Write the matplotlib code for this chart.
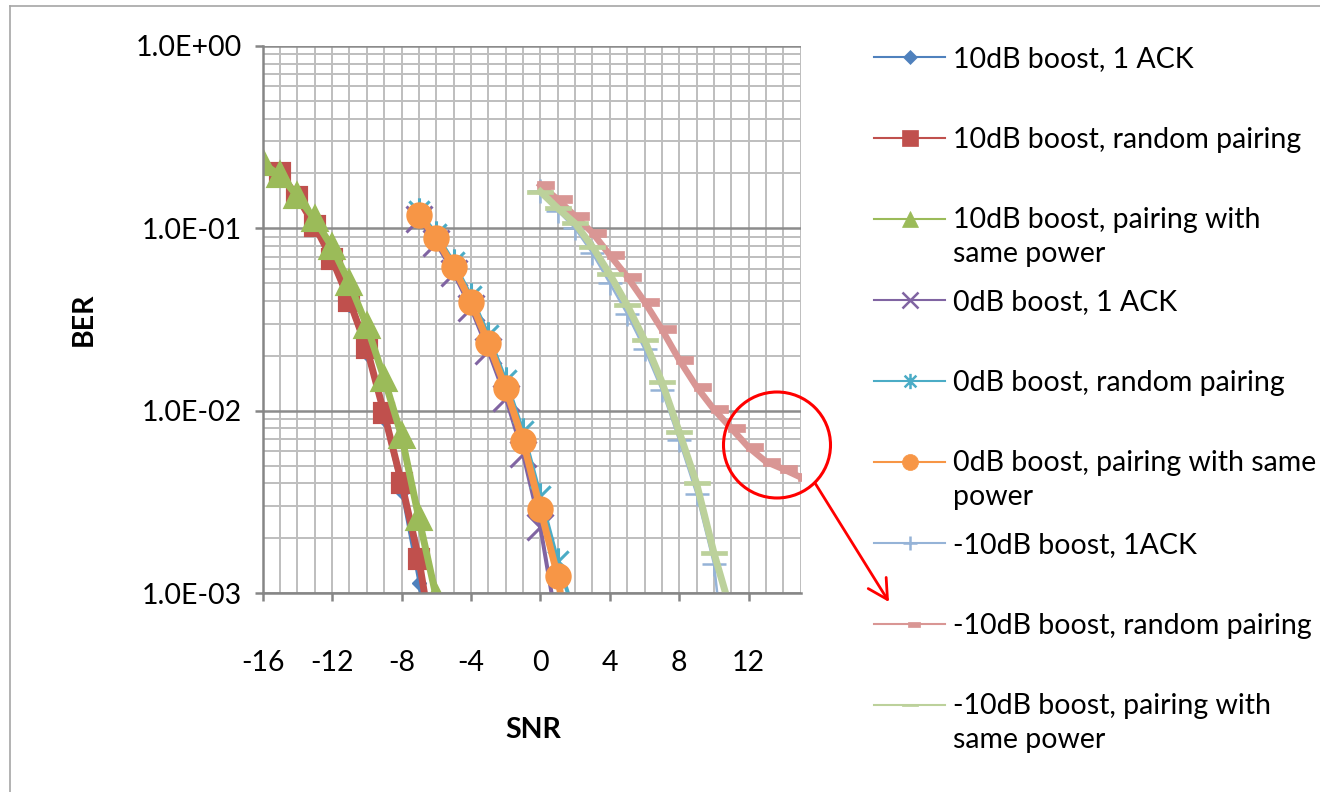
import numpy as np
import matplotlib.pyplot as plt
from matplotlib.path import Path
from matplotlib.lines import Line2D
from matplotlib.patches import Ellipse, FancyArrowPatch
from matplotlib.ticker import FixedLocator, FuncFormatter, NullFormatter

plt.rcParams['font.family'] = ['Lato', 'DejaVu Sans']
plt.rcParams['axes.unicode_minus'] = False

# ---- data ----
snr_10db = [-16, -15, -14, -13, -12, -11, -10, -9, -8, -7, -6]
ber_10db_1ack = [0.22, 0.19, 0.145, 0.100, 0.065, 0.038, 0.0205, 0.0090, 0.0036, 0.00113, 0.0002]
snr_10db_rp = [-15, -14, -13, -12, -11, -10, -9, -8, -7, -6]
ber_10db_rp = [0.200, 0.149, 0.103, 0.0676, 0.0401, 0.0220, 0.00966, 0.00402, 0.00153, 0.0004]
ber_10db_same = [0.227, 0.195, 0.150, 0.112, 0.0787, 0.0499, 0.0292, 0.0150, 0.00728, 0.00257, 0.00095]

snr_0db = [-7, -6, -5, -4, -3, -2, -1, 0, 1]
snr_0db_long = [-7, -6, -5, -4, -3, -2, -1, 0, 1, 2]
ber_0db_1ack = [0.113, 0.083, 0.057, 0.0365, 0.0213, 0.0118, 0.0058, 0.0023, 0.00063]
ber_0db_rp = [0.124, 0.093, 0.065, 0.0425, 0.026, 0.0147, 0.0077, 0.0034, 0.0015, 0.00075]
ber_0db_same = [0.118, 0.0881, 0.0611, 0.0396, 0.0236, 0.0133, 0.00684, 0.00288, 0.00124, 0.0003]

snr_m10db = [0, 1, 2, 3, 4, 5, 6, 7, 8, 9, 10, 11]
snr_m10db_rp = [0, 1, 2, 3, 4, 5, 6, 7, 8, 9, 10, 11, 12, 13, 14, 15]
ber_m10db_1ack = [0.160, 0.125, 0.100, 0.073, 0.050, 0.034, 0.0218, 0.0130, 0.0069, 0.0035, 0.00145, 0.0002]
ber_m10db_rp = [0.173, 0.144, 0.1168, 0.0946, 0.0714, 0.0543, 0.0396, 0.0279, 0.0190, 0.0135,
                0.01016, 0.0080, 0.00629, 0.00525, 0.00478, 0.00431]
ber_m10db_same = [0.159, 0.1288, 0.1065, 0.0793, 0.0560, 0.0380, 0.0244, 0.0144, 0.00766, 0.00399, 0.00166, 0.00078]

labels = ['10dB boost, 1 ACK', '10dB boost, random pairing', '10dB boost, pairing with\nsame power',
          '0dB boost, 1 ACK', '0dB boost, random pairing', '0dB boost, pairing with same\npower',
          '-10dB boost, 1ACK', '-10dB boost, random pairing', '-10dB boost, pairing with\nsame power']
colors = ['#4F81BD', '#C0504D', '#9BBB59', '#8064A2', '#4BACC6', '#F79646',
          '#95B3D7', '#D99694', '#BCD19B']

# custom Excel-like markers
asterisk = Path([(-1, -1), (1, 1), (-1, 1), (1, -1), (0, -1.3), (0, 1.3)],
                [Path.MOVETO, Path.LINETO, Path.MOVETO, Path.LINETO, Path.MOVETO, Path.LINETO])
short_dash = Path([(-0.2, -0.25), (1, -0.25), (1, 0.25), (-0.2, 0.25), (-0.2, -0.25)],
                  [Path.MOVETO, Path.LINETO, Path.LINETO, Path.LINETO, Path.CLOSEPOLY])
long_dash = Path([(-1, -0.13), (1, -0.13), (1, 0.13), (-1, 0.13), (-1, -0.13)],
                 [Path.MOVETO, Path.LINETO, Path.LINETO, Path.LINETO, Path.CLOSEPOLY])

xs = [snr_10db, snr_10db_rp, snr_10db, snr_0db, snr_0db_long, snr_0db_long,
      snr_m10db, snr_m10db_rp, snr_m10db]
ys = [ber_10db_1ack, ber_10db_rp, ber_10db_same, ber_0db_1ack, ber_0db_rp, ber_0db_same,
      ber_m10db_1ack, ber_m10db_rp, ber_m10db_same]
# (linewidth, marker, plot size, plot edge width, filled, legend size)
styles = [
    (1.8, 'D', 7.0, 1.0, True, 7.0),
    (5.0, 's', 13.5, 3.0, True, 11.5),
    (5.0, '^', 15.5, 3.0, True, 11),
    (2.9, 'x', 19, 2.2, False, 11),
    (2.9, asterisk, 19, 2.2, False, 11),
    (5.0, 'o', 14.5, 4.5, True, 11.5),
    (1.8, '+', 17, 1.8, False, 9.5),
    (4.7, short_dash, 20.4, 0.5, True, 14.4),
    (5.0, long_dash, 19.4, 0.5, True, 12.2),
]

W, H = 1320, 792
fig = plt.figure(figsize=(W / 100, H / 100), dpi=100)
fig.patch.set_facecolor('white')


def fx(px):
    return px / W


def fy(py):
    return 1 - py / H


ax = fig.add_axes([fx(262.7), fy(593), (800.7 - 262.7) / W, (593 - 46) / H])
ax.set_yscale('log')
ax.set_xlim(-16, 15)
ax.set_ylim(1e-3, 1)

# grid like Excel
ax.xaxis.set_major_locator(FixedLocator(np.arange(-16, 13, 4)))
ax.xaxis.set_minor_locator(FixedLocator(np.arange(-16, 16, 1)))
ax.yaxis.set_major_locator(FixedLocator([1e-3, 1e-2, 1e-1, 1]))
minor_y = [m * 10.0 ** e for e in (-3, -2, -1) for m in range(2, 10)]
ax.yaxis.set_minor_locator(FixedLocator(minor_y))
ax.yaxis.set_minor_formatter(NullFormatter())
ax.yaxis.set_major_formatter(FuncFormatter(lambda v, p: f'{v:.1E}'))
ax.grid(True, axis='x', which='both', color='#BEBEBE', lw=1.4)
ax.grid(True, axis='y', which='minor', color='#BEBEBE', lw=1.4)
ax.grid(True, axis='y', which='major', color='#8C8C8C', lw=1.8)
ax.set_axisbelow(True)
for s in ['top', 'right']:
    ax.spines[s].set_visible(False)
for s in ['left', 'bottom']:
    ax.spines[s].set_color('#868686')
    ax.spines[s].set_linewidth(1.8)
ax.tick_params(axis='both', which='major', direction='out', length=6, width=1.8, color='#868686',
               labelsize=20.5, labelcolor='black')
ax.tick_params(axis='x', which='major', pad=35)
ax.tick_params(axis='y', which='major', pad=9)
ax.tick_params(axis='both', which='minor', length=0)

for x, y, c, st in zip(xs, ys, colors, styles):
    lw, mk, ms, mew, filled, _ = st
    ax.plot(x, y, color=c, lw=lw, marker=mk, ms=ms, mew=mew, mec=c,
            mfc=c if filled else 'none', solid_joinstyle='round')

ax.set_xlabel('SNR', fontsize=20.5, fontweight='bold')
ax.set_ylabel('BER', fontsize=20.5, fontweight='bold')
ax.xaxis.set_label_coords((533 - 262.7) / 538, (593 - 717) / 547)
ax.yaxis.set_label_coords((97 - 262.7) / 538, 0.5)

# legend drawn Excel-style: first text line aligned with the sample line
pitch = 33
for i, (lab, c, st) in enumerate(zip(labels, colors, styles)):
    lw, mk, ms, mew, filled, lms = st
    yc = 57 + 81 * i
    fig.add_artist(Line2D([fx(874), fx(910), fx(945)], [fy(yc)] * 3, transform=fig.transFigure,
                          color=c, lw=1.5, marker=mk, markevery=[1], ms=lms,
                          mew=min(mew, 1.8) if not filled else 0.5, mec=c,
                          mfc=c if filled else 'none'))
    nl = lab.count('\n')
    fig.text(fx(953), fy(yc + 10 + pitch * nl), lab, ha='left', va='baseline',
             fontsize=20.5, linespacing=1.36)

# red circle + arrow annotation
fig.add_artist(Ellipse((fx(777), fy(445)), 107 / W, 106 / H, transform=fig.transFigure,
                       fill=False, ec='#FF0000', lw=2.2))
fig.add_artist(FancyArrowPatch((fx(815), fy(483)), (fx(889), fy(602)), transform=fig.transFigure,
                               arrowstyle='->,head_length=0.7,head_width=0.38', mutation_scale=20,
                               color='#FF0000', lw=2.0, shrinkA=0, shrinkB=0))

# chart area border
fig.add_artist(Line2D([fx(10), fx(10)], [fy(6), -0.05], transform=fig.transFigure, color='#A6A6A6', lw=1.2))
fig.add_artist(Line2D([fx(10), 1.05], [fy(6), fy(6)], transform=fig.transFigure, color='#A6A6A6', lw=1.2))

fig.savefig('out.png', dpi=100, facecolor='white')
